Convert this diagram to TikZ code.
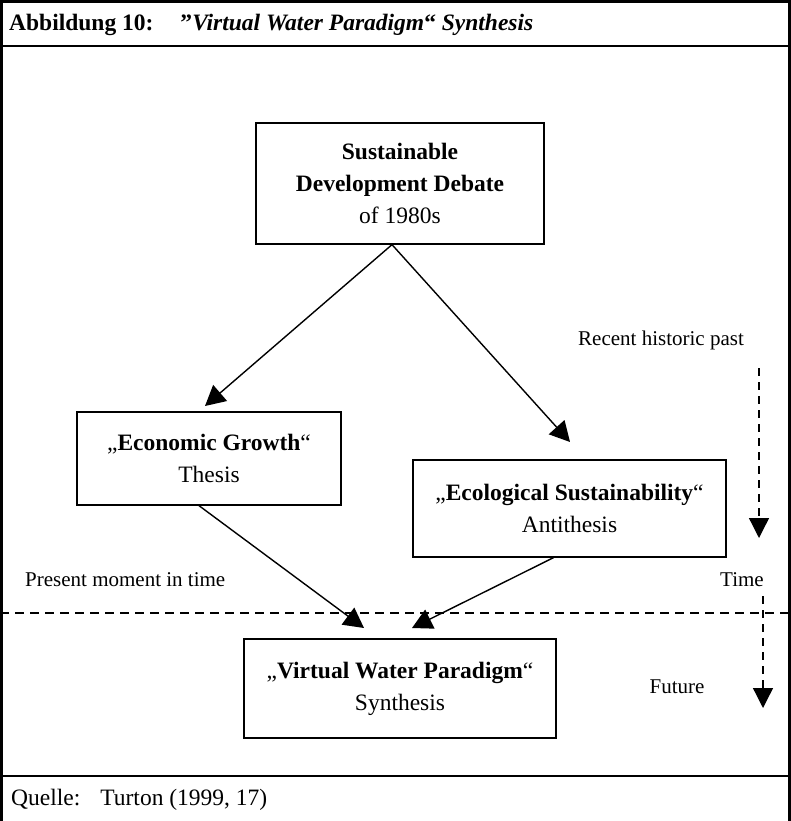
\documentclass[tikz,border=0pt]{standalone}
\usepackage{fontspec}
\setmainfont{Liberation Serif}
\usetikzlibrary{arrows.meta}
\begin{document}
\begin{tikzpicture}[x=1pt,y=-1pt,
  box/.style={draw, line width=1.3pt, align=center, inner sep=0pt, font=\fontsize{23.5}{32}\selectfont},
  lbl/.style={inner sep=0pt, font=\fontsize{21}{25}\selectfont},
  conn/.style={line width=1.4pt, -{Triangle[width=21pt,length=20pt]}},
  timeln/.style={line width=1.3pt, dash pattern=on 8pt off 6pt, -{Triangle[width=20pt,length=20pt]}},
  frame/.style={line width=2.5pt}]
\useasboundingbox (0,0) rectangle (791,821);
% frame
\draw[frame] (1.5,821) -- (1.5,1.5) -- (791,1.5);
\draw[frame] (789.5,1.5) -- (789.5,821);
\draw[frame] (0,46) -- (791,46);
\draw[frame] (0,776) -- (791,776);
\node[anchor=west, inner sep=0pt, font=\fontsize{23.5}{28}\selectfont\bfseries] (title) at (9,25)
  {Abbildung 10:\hspace{27pt}”\textit{Virtual Water Paradigm}“ \textit{Synthesis}};
\node[anchor=west, inner sep=0pt, font=\fontsize{23.5}{28}\selectfont] (src) at (11,800)
  {Quelle:\hspace{20pt}Turton (1999, 17)};
% boxes
\node[box, minimum width=288, minimum height=121] (sdd) at (400,183.5)
  {\textbf{Sustainable}\\\textbf{Development Debate}\\of 1980s};
\node[box, minimum width=264, minimum height=93] (eg) at (209,458.5)
  {„\textbf{Economic Growth}“\\Thesis};
\node[box, minimum width=313, minimum height=97] (es) at (569.5,508.5)
  {„\textbf{Ecological Sustainability}“\\Antithesis};
\node[box, minimum width=312, minimum height=99] (vw) at (400,688.5)
  {„\textbf{Virtual Water Paradigm}“\\Synthesis};
% connectors
\coordinate (apex) at ([xshift=-8pt]sdd.south);
\coordinate (t1) at (205,406);
\coordinate (t2) at (570,442);
\coordinate (s3) at ([xshift=-10pt]eg.south);
\coordinate (t3) at (364,628);
\coordinate (s4) at ([xshift=-16pt]es.south);
\coordinate (t4) at (412,628);
\draw[conn] (apex) -- (t1);
\draw[conn] (apex) -- (t2);
\draw[conn] (s3) -- (t3);
\draw[conn] (s4) -- (t4);
% present line
\coordinate (pl) at (0,613);
\coordinate (pr) at (791,613);
\draw[line width=1.3pt, dash pattern=on 9pt off 6pt] (pl) -- (pr);
% time
\node[lbl] (past) at (661,340) {Recent historic past};
\node[lbl] (time) at (742,580) {Time};
\node[lbl] (fut) at (677,687) {Future};
\node[lbl, anchor=west] (pres) at (25,580) {Present moment in time};
\coordinate (a1) at (759,368);
\coordinate (a1e) at (759,538);
\coordinate (a2) at (763,596);
\coordinate (a2e) at (763,708);
\draw[timeln] (a1) -- (a1e);
\draw[timeln] (a2) -- (a2e);
\end{tikzpicture}
\end{document}
